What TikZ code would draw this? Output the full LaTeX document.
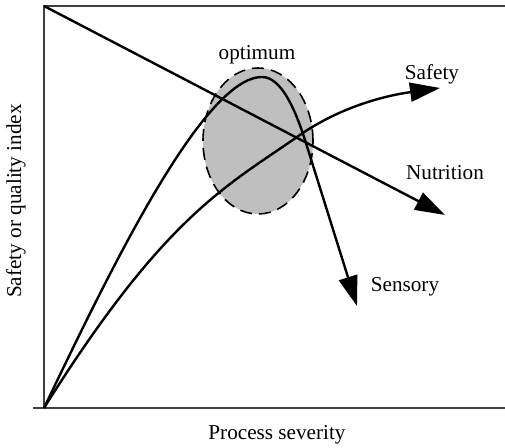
\documentclass[tikz,border=0pt]{standalone}
\usepackage{fontspec}
\setmainfont{Liberation Serif}
\usepackage{tikz}
\usetikzlibrary{arrows.meta, shapes.geometric}
\tikzstyle{axis}=[line width=0.9pt, black!75]
\tikzstyle{curve}=[line width=1.2pt, -{Triangle[length=15pt,width=9.5pt]}]
\tikzstyle{lbl}=[font=\fontsize{10.6}{12}\selectfont, inner sep=0pt]

\begin{document}
\begin{tikzpicture}[x=0.5pt, y=-0.5pt]
        \useasboundingbox (0,0) rectangle (505,448);
        % axes
        \coordinate (corner) at (44,6);
        \coordinate (origin) at (44,408);
        \draw[axis] (505,6) -- (corner) -- (origin);
        \draw[axis] (33,408) -- (505,408);
        % optimum region
        \node[ellipse, draw, line width=0.8pt, dash pattern=on 6pt off 3.5pt, fill=black!25,
              minimum width=55pt, minimum height=73pt, inner sep=0pt] (opt) at (258,141) {};
        \node[lbl] (optlbl) at (257,55) {optimum};
        % Nutrition
        \coordinate (nutri) at (445,215);
        \draw[curve] (corner) -- (nutri);
        \node[lbl] (nutrilbl) at (445,173) {Nutrition};
        % Safety
        \coordinate (cross) at (297,137);
        \coordinate (safe) at (440,88);
        \draw[curve] (origin) .. controls (165,215) and (227,186) .. (cross)
            .. controls (342,105) and (390,95) .. (safe);
        \node[lbl] (safelbl) at (432,74) {Safety};
        % Sensory
        \coordinate (peak) at (262,77);
        \coordinate (sens) at (357,306);
        \draw[curve] (origin) .. controls (105,281) and (202,77) .. (peak)
            .. controls (282,77) and (296,112) .. (305,140) -- (sens);
        \node[lbl] (senslbl) at (405,287) {Sensory};
        % axis labels
        \node[lbl] (xlbl) at (277,435) {Process severity};
        \node[lbl, rotate=90] (ylbl) at (16,201) {Safety or quality index};
    \end{tikzpicture}
\end{document}
